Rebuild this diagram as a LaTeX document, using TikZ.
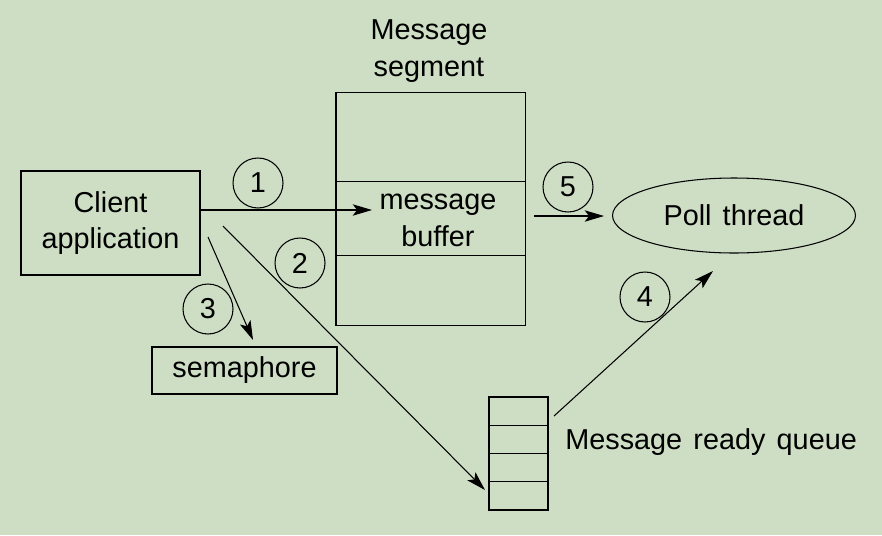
\documentclass[tikz,border=0pt]{standalone}
\usepackage{fontspec}
\setmainfont{Liberation Sans}[WordSpace=1.4]
\usetikzlibrary{arrows.meta,shapes.geometric}
\definecolor{bggreen}{RGB}{206,222,196}

\begin{document}
\begin{tikzpicture}[x=0.02cm, y=-0.02cm,
  every node/.style={font=\fontsize{16.4pt}{21pt}\selectfont},
  box/.style={shape=rectangle, draw=black, line width=0.8pt, inner sep=0pt},
  num/.style={shape=circle, draw=black, line width=0.6pt, minimum size=1cm, inner sep=0pt},
  arr/.style={-{Stealth[length=11pt, width=6.5pt, inset=2.5pt]}, line width=0.6pt}]
\useasboundingbox[fill=bggreen] (0,0) rectangle (882,535);
\node[box, minimum width=3.58cm, minimum height=2.08cm, align=center] (client) at (110.5,223) {Client\\application};
\node[box, minimum width=3.7cm, minimum height=0.94cm] (sem) at (244.5,370.5) {semaphore};
\node[align=center] (seglabel) at (429,51) {Message\\segment};
\node[box, minimum width=3.79cm, minimum height=1.78cm] (seg0) at (430.75,137.2) {};
\node[box, minimum width=3.79cm, minimum height=1.48cm] (seg1) at (430.75,218.7) {};
\node[box, minimum width=3.79cm, minimum height=1.4cm] (seg2) at (430.75,290.7) {};
\node[align=center] (buf) at (438,220) {message\\buffer};
\node[shape=ellipse, draw=black, line width=0.6pt, minimum width=4.86cm, minimum height=1.5cm, inner sep=0pt] (poll) at (734,215.5) {Poll thread};
\node[box, minimum width=1.18cm, minimum height=0.565cm] (q0) at (518.5,411.1) {};
\node[box, minimum width=1.18cm, minimum height=0.565cm] (q1) at (518.5,439.4) {};
\node[box, minimum width=1.18cm, minimum height=0.565cm] (q2) at (518.5,467.6) {};
\node[box, minimum width=1.18cm, minimum height=0.565cm] (q3) at (518.5,495.9) {};
\node[anchor=west, inner sep=0pt] (qlabel) at (565,442) {Message ready queue};
\node[num] (n1) at (258,183) {1};
\node[num] (n2) at (300,263) {2};
\node[num] (n3) at (208,309) {3};
\node[num] (n4) at (645,297) {4};
\node[num] (n5) at (568,187) {5};
\coordinate (a1) at (372,210);
\coordinate (a2s) at (223,226);
\coordinate (a2e) at (485,490);
\coordinate (a3s) at (208,237);
\coordinate (a3e) at (253,340);
\coordinate (a4s) at (554,416);
\coordinate (a4e) at (713,271);
\coordinate (a5s) at (534,216);
\coordinate (a5e) at (604,216);
\draw[arr] (client.east |- a1) -- (a1);
\draw[arr] (a2s) -- (a2e);
\draw[arr] (a3s) -- (a3e);
\draw[arr] (a4s) -- (a4e);
\draw[arr] (a5s) -- (a5e);
\end{tikzpicture}
\end{document}
